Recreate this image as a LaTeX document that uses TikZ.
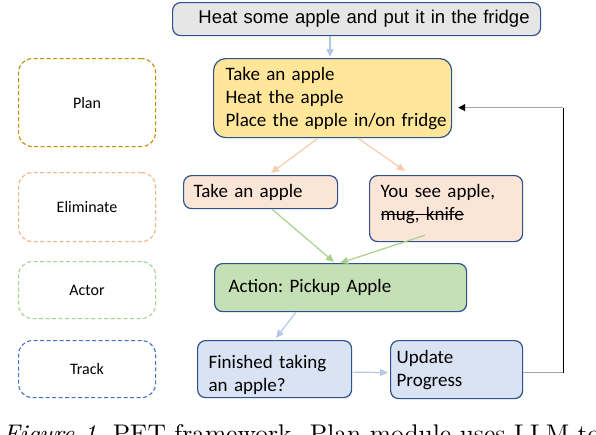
\documentclass[tikz,border=0pt]{standalone}
\usepackage{fontspec}
\usepackage{graphicx}
\newfontfamily\calfont{Carlito}
\newfontfamily\arifont{Liberation Sans}
\newcommand\mystrk[1]{\leavevmode\setbox0\hbox{#1}\rlap{\rule[5.5pt]{\wd0}{1.2pt}}\box0}
\usetikzlibrary{arrows.meta,calc}
\definecolor{bord}{HTML}{2F528F}
\definecolor{topfill}{HTML}{E7E6E6}
\definecolor{planfill}{HTML}{FFE699}
\definecolor{elimfill}{HTML}{FBE5D6}
\definecolor{actfill}{HTML}{C5E0B4}
\definecolor{trackfill}{HTML}{DAE3F3}
\definecolor{plandash}{HTML}{BF9000}
\definecolor{elimdash}{HTML}{F4B183}
\definecolor{actdash}{HTML}{A9D18E}
\definecolor{trackdash}{HTML}{4472C4}
\definecolor{arrblue}{HTML}{B4C7E7}
\definecolor{arrorange}{HTML}{F8CBAD}
\definecolor{arrgreen}{HTML}{A9D18E}
\definecolor{fbgray}{HTML}{A6A6A6}
\begin{document}
\begin{tikzpicture}[x=1pt,y=-1pt,
  box/.style={draw=bord, line width=1.2pt, rounded corners=8pt, anchor=north west,
    font=\calfont\fontsize{19}{23}\selectfont\frenchspacing, align=left, inner ysep=0pt},
  dashbox/.style={draw, dash pattern=on 4pt off 2.5pt, line width=1.1pt, rounded corners=14pt,
    anchor=north west, inner sep=0pt, minimum width=137pt,
    font=\calfont\fontsize{16}{19}\selectfont},
  arr/.style={line width=1.2pt, -{Triangle[length=8pt,width=7pt]}}
]
\useasboundingbox (0,0) rectangle (596,434);
\clip (0,0) rectangle (596,434);
\fill[white] (0,0) rectangle (596,434);

% left dashed labels
\node[dashbox, draw=plandash, minimum height=88pt] (lplan) at (18,58) {Plan};
\node[dashbox, draw=elimdash, minimum height=69pt] (lelim) at (18,172) {Eliminate};
\node[dashbox, draw=actdash, minimum height=57pt] (lact) at (18,261) {Actor};
\node[dashbox, draw=trackdash, minimum height=57pt] (ltrack) at (18,340) {Track};

% main boxes
\node[box, fill=topfill, font=\arifont\fontsize{18.5}{23}\selectfont, align=right,
  text width=346pt, inner xsep=11pt, minimum height=33pt] (top) at (172,2)
  {Heat some apple and put it in the fridge};
\node[box, fill=planfill, rounded corners=12pt, text width=214pt, inner xsep=12pt,
  minimum height=79pt] (plan) at (213,58)
  {Take an apple\\Heat the apple\\\mbox{Place the apple in/on fridge}};
\node[box, fill=elimfill, text width=134pt, inner xsep=10pt, minimum height=33pt] (e1) at (183,175)
  {Take an apple};
\node[box, fill=elimfill, text width=131pt, inner xsep=11pt, minimum height=66pt] (e2) at (369,175)
  {You see apple,\\\mystrk{mug, knife}\rule[-13pt]{0pt}{1pt}};
\node[box, fill=actfill, text width=224pt, inner xsep=14pt, minimum height=48pt] (act) at (214,263)
  {Action: Pickup Apple};
\node[box, fill=trackfill, text width=132pt, inner xsep=11pt, minimum height=57pt] (t1) at (197,340)
  {\rule{0pt}{24pt}Finished taking\\an apple?};
\node[box, fill=trackfill, text width=120pt, inner xsep=6pt, minimum height=58pt] (t2) at (390,340)
  {Update\\Progress};

% connectors
\draw[arr, arrblue] ($(top.south west)+(158,0)$) -- ($(plan.north west)+(117,-1)$);
\draw[arr, arrorange] ($(plan.south west)+(105,0)$) -- ($(e1.north west)+(88,-2)$);
\draw[arr, arrorange] ($(plan.south west)+(145,0)$) -- ($(e2.north west)+(36,-4)$);
\draw[arr, arrgreen] ($(e1.south west)+(89,0)$) -- ($(act.north west)+(120,-1)$);
\draw[arr, arrgreen] ($(e2.south west)+(56,-7)$) -- ($(act.north west)+(126,0)$);
\draw[arr, arrblue] ($(act.south west)+(82,0)$) -- ($(t1.north west)+(79,-2)$);
\draw[arr, arrblue] ($(t1.east)+(0,3)$) -- ($(t2.west)+(-2,3)$);

% feedback loop
\coordinate (fb1) at ($(t2.east)+(40,3)$);
\coordinate (fbtip) at ($(plan.east)+(6,9.5)$);
\coordinate (fb2) at (fb1 |- fbtip);
\draw[fbgray, line width=1.1pt] ($(t2.east)+(0,3)$) -- (fb1);
\draw[black, line width=1.1pt] (fb1) -- (fb2);
\draw[fbgray, line width=1.1pt, -{Triangle[length=7pt,width=7pt,color=black]}] (fb2) -- (fbtip);

% caption (clipped at the bottom edge, as in the reference)
\node[anchor=base west, inner sep=0pt] (cap) at (3,442)
  {\resizebox{597pt}{!}{\itshape Figure 1.\upshape\ PET framework. Plan module uses LLM to}};
\end{tikzpicture}
\end{document}
